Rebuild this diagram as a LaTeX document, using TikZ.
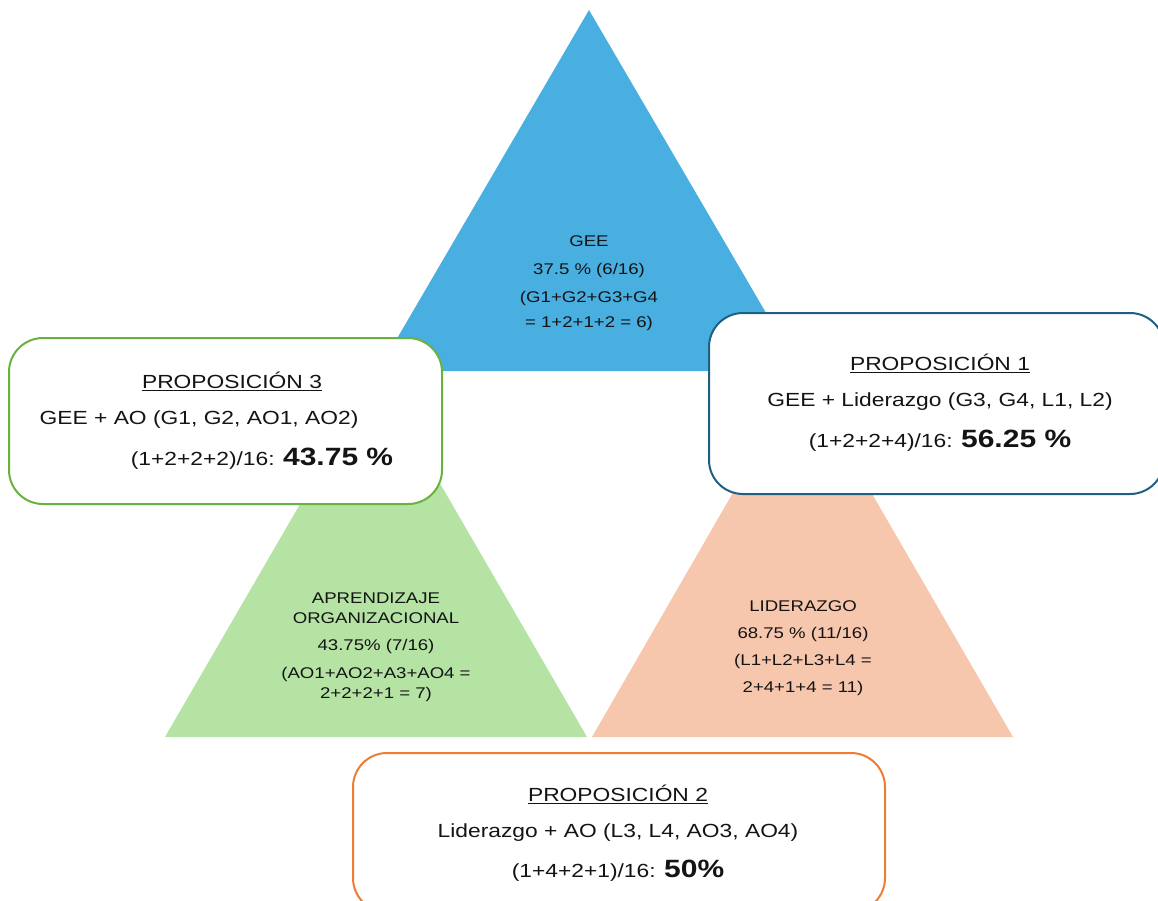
\documentclass[tikz,border=0pt]{standalone}
\usepackage{fontspec}
\setmainfont{Liberation Sans}[FakeStretch=1.2]
\definecolor{geeblue}{RGB}{72,175,224}
\definecolor{aogreen}{RGB}{180,227,163}
\definecolor{lidpeach}{RGB}{246,198,173}
\definecolor{greenline}{RGB}{106,178,62}
\definecolor{blueline}{RGB}{31,96,130}
\definecolor{orangeline}{RGB}{237,125,51}
\definecolor{ink}{RGB}{20,20,20}
\tikzset{
  tritext/.style={anchor=base, text=ink, font=\fontsize{15.5}{20}\selectfont, inner sep=0pt},
  boxtext/.style={anchor=base, text=ink, font=\fontsize{19}{23}\selectfont, inner sep=0pt},
  propbox/.style={draw, line width=2pt, fill=white, rounded corners=34pt},
}
\newcommand{\bignum}[1]{{\fontsize{25}{29}\selectfont\bfseries #1}}
\begin{document}
\begin{tikzpicture}[x=1pt,y=-1pt]
\useasboundingbox (0,0) rectangle (1158,900);

% three triangles
\coordinate (gA) at (589,10);
\coordinate (gL) at (378,371);
\coordinate (gR) at (800,371);
\fill[geeblue] (gA) -- (gL) -- (gR) -- cycle;

\coordinate (aA) at (376,373);
\coordinate (aL) at (165,737);
\coordinate (aR) at (587,737);
\fill[aogreen] (aA) -- (aL) -- (aR) -- cycle;

\coordinate (lA) at (802,373);
\coordinate (lL) at (592,737);
\coordinate (lR) at (1013,737);
\fill[lidpeach] (lA) -- (lL) -- (lR) -- cycle;

% triangle labels
\node[tritext] (g1) at (589,246.5) {GEE};
\node[tritext] (g2) at (589,274.5) {37.5 \% (6/16)};
\node[tritext] (g3) at (589,302.5) {(G1+G2+G3+G4};
\node[tritext] (g4) at (589,327.5) {= 1+2+1+2 = 6)};

\node[tritext] (a1) at (376,603.5) {APRENDIZAJE};
\node[tritext] (a2) at (376,623.5) {ORGANIZACIONAL};
\node[tritext] (a3) at (376,650.5) {43.75\% (7/16)};
\node[tritext] (a4) at (376,678.5) {(AO1+AO2+A3+AO4 =};
\node[tritext] (a5) at (376,698.5) {2+2+2+1 = 7)};

\node[tritext] (l1) at (803,611.5) {LIDERAZGO};
\node[tritext] (l2) at (803,638.5) {68.75 \% (11/16)};
\node[tritext] (l3) at (803,665.5) {(L1+L2+L3+L4 =};
\node[tritext] (l4) at (803,692.5) {2+4+1+4 = 11)};

% proposition boxes
\draw[propbox, draw=greenline] (9,338) rectangle (442,504);
\draw[propbox, draw=blueline] (709,313) rectangle (1164,494);
\draw[propbox, draw=orangeline] (353,753) rectangle (885,912);

\node[boxtext] (p3a) at (232,388.8) {\underline{PROPOSICIÓN 3}};
\node[boxtext] (p3b) at (199,424.8) {GEE + AO (G1, G2, AO1, AO2)};
\node[boxtext] (p3c) at (262,465.8) {(1+2+2+2)/16: \bignum{43.75 \%}};

\node[boxtext] (p1a) at (940,370.8) {\underline{PROPOSICIÓN 1}};
\node[boxtext] (p1b) at (940,406.8) {GEE + Liderazgo (G3, G4, L1, L2)};
\node[boxtext] (p1c) at (940,447.8) {(1+2+2+4)/16: \bignum{56.25 \%}};

\node[boxtext] (p2a) at (618,801.8) {\underline{PROPOSICIÓN 2}};
\node[boxtext] (p2b) at (618,837.8) {Liderazgo + AO (L3, L4, AO3, AO4)};
\node[boxtext] (p2c) at (618,877.8) {(1+4+2+1)/16: \bignum{50\%}};
\end{tikzpicture}
\end{document}
